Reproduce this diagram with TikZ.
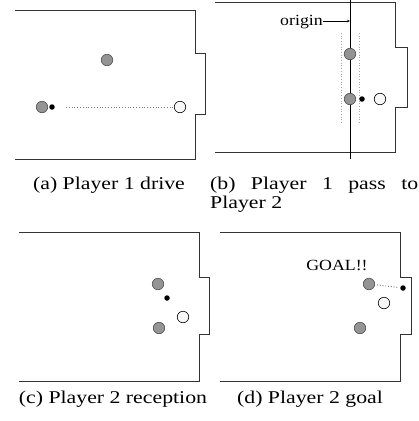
\documentclass[tikz,border=0pt]{standalone}
\usepackage{fontspec}
\setmainfont{Liberation Serif}[FakeStretch=1.15]
\newfontfamily\capfont{Liberation Serif}[FakeStretch=1.21]
\usetikzlibrary{arrows.meta}
\tikzset{
  field/.style={draw=black!80, line width=0.8pt},
  opp/.style={circle, draw=black!70, fill=black!42, minimum size=11.5pt, inner sep=0pt, line width=0.6pt},
  ballst/.style={circle, fill=black, minimum size=5.5pt, inner sep=0pt},
  mate/.style={circle, draw=black, fill=black!3, minimum size=11.5pt, inner sep=0pt, line width=0.6pt},
  capt/.style={inner sep=0pt, anchor=base, font=\capfont\fontsize{18}{18}\selectfont},
  lbl/.style={inner sep=0pt, font=\fontsize{15.5}{16}\selectfont},
  pass/.style={draw=black!50, dotted, line width=0.8pt},
  band/.style={draw=black!35, dotted, line width=0.7pt},
}
\begin{document}
\begin{tikzpicture}[x=1pt, y=-1pt]
\useasboundingbox (0,0) rectangle (419,421);
% panel (a)
\draw[field] (15,10) -- (195,10) -- (195,53) -- (205,53) -- (205,114) -- (195,114) -- (195,159) -- (15,159);
\node[opp] (a1) at (107,60) {};
\node[opp] (a2) at (42,107) {};
\node[ballst] (ab) at (52,107) {};
\node[mate] (am) at (180,107) {};
\draw[pass, shorten <=11pt] (ab) -- (am);
\node[capt] (ca) at (109,189) {(a) Player 1 drive};
% panel (b)
\draw[field] (215,2) -- (395,2) -- (395,47) -- (407,47) -- (407,107) -- (395,107) -- (395,152) -- (215,152);
\coordinate (vtop) at (350,0);
\coordinate (vbot) at (350,159);
\coordinate (oarr) at (350,21);
\coordinate (l1t) at (341,33); \coordinate (l1b) at (341,123);
\coordinate (l2t) at (359,33); \coordinate (l2b) at (359,123);
\draw[band] (l1t) -- (l1b);
\draw[band] (l2t) -- (l2b);
\draw[black, line width=0.8pt] (vtop) -- (vbot);
\node[opp] (b1) at (350,54) {};
\node[opp] (b2) at (350,99) {};
\node[ballst] (bb) at (362,99) {};
\node[mate] (bm) at (380,99) {};
\node[lbl, anchor=base east] (orig) at (323,25) {origin};
\draw[black, line width=0.6pt, -{Stealth[length=3pt,width=2.5pt]}] (orig.east |- oarr) -- (oarr);
\node[capt, anchor=base west] (cb1) at (210,189) {\makebox[208pt][s]{(b)\hfill Player\hfill 1\hfill pass\hfill to}};
\node[capt, anchor=base west] (cb2) at (210,208) {Player 2};
% panel (c)
\draw[field] (19,232) -- (199,232) -- (199,277) -- (209,277) -- (209,334) -- (199,334) -- (199,381) -- (19,381);
\node[opp] (c1) at (158,284) {};
\node[ballst] (cbl) at (167,298) {};
\node[mate] (cm) at (183,317) {};
\node[opp] (c2) at (159,328) {};
\node[capt] (cc) at (113,403) {(c) Player 2 reception};
% panel (d)
\draw[field] (220,232) -- (400,232) -- (400,277) -- (411,277) -- (411,334) -- (400,334) -- (400,381) -- (220,381);
\node[lbl, anchor=base] (goal) at (337,270) {GOAL!!};
\node[opp] (d1) at (369,284) {};
\node[ballst] (db) at (403,288) {};
\node[mate] (dm) at (384,303) {};
\node[opp] (d2) at (360,328) {};
\draw[pass, draw=black!75, shorten <=2pt, shorten >=2pt] (d1) -- (db);
\node[capt] (cd) at (310,403) {(d) Player 2 goal};
\end{tikzpicture}
\end{document}
